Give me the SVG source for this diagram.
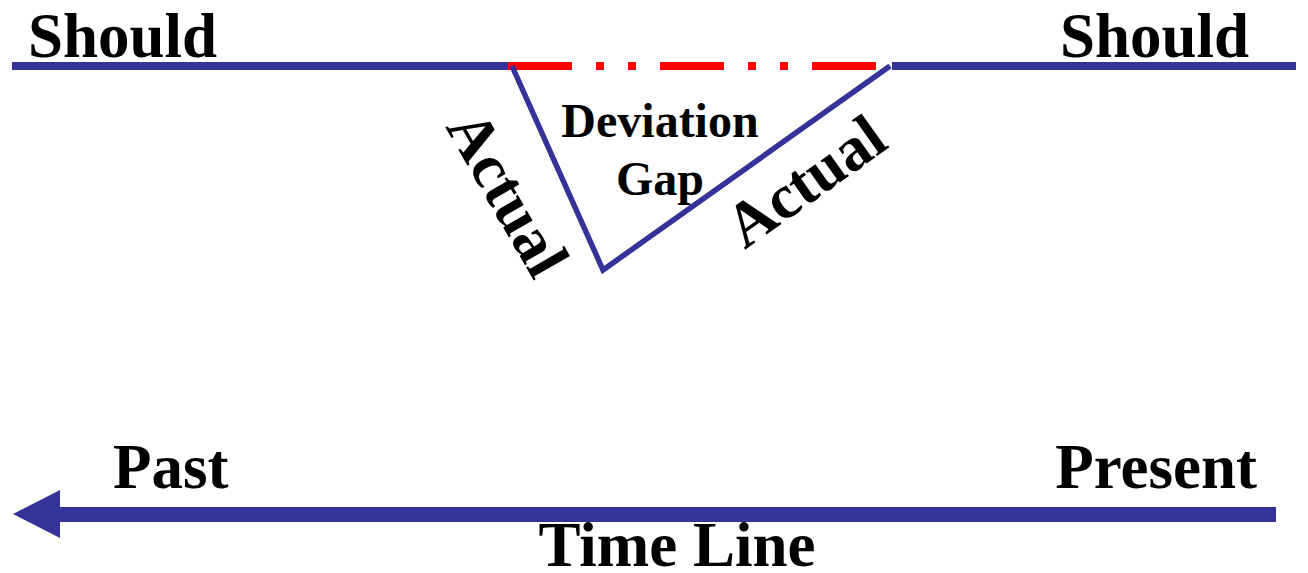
<svg xmlns="http://www.w3.org/2000/svg" width="1308" height="573" viewBox="0 0 1308 573">
<style>
.t{font-family:"Liberation Serif","Times New Roman",serif;font-weight:bold;fill:#000}
.b{stroke:#333399;fill:none}
</style>
<rect width="1308" height="573" fill="#fff"/>
<g id="connectors">
<line class="b" x1="12" y1="66" x2="508" y2="66" stroke-width="8"/>
<line class="b" x1="892" y1="66" x2="1296" y2="66" stroke-width="8"/>
<line x1="508" y1="66" x2="876" y2="66" stroke="#ff0000" stroke-width="8" stroke-dasharray="64 24 8 24 8 24"/>
<polyline class="b" points="512,66 603,270 890,66" stroke-width="5.5"/>
<line class="b" x1="58" y1="514.5" x2="1276" y2="514.5" stroke-width="15"/>
<polygon points="13,514 60,490 60,538" fill="#333399"/>
</g>
<g id="should-left"><text class="t" x="28" y="57" font-size="63">Should</text></g>
<g id="should-right"><text class="t" x="1060" y="57" font-size="63">Should</text></g>
<g id="deviation-gap">
<text class="t" x="660" y="137" font-size="48" text-anchor="middle">Deviation</text>
<text class="t" x="660" y="195" font-size="48" text-anchor="middle">Gap</text>
</g>
<g id="actual-left"><text class="t" font-size="63" text-anchor="middle" transform="translate(507,194) rotate(60)" x="0" y="20">Actual</text></g>
<g id="actual-right"><text class="t" font-size="63" text-anchor="middle" transform="translate(806,182) rotate(-35.4)" x="0" y="20">Actual</text></g>
<g id="past"><text class="t" x="113" y="488" font-size="63">Past</text></g>
<g id="present"><text class="t" x="1257" y="488" font-size="63" text-anchor="end">Present</text></g>
<g id="timeline"><text class="t" x="677" y="566" font-size="63" text-anchor="middle">Time Line</text></g>
</svg>
